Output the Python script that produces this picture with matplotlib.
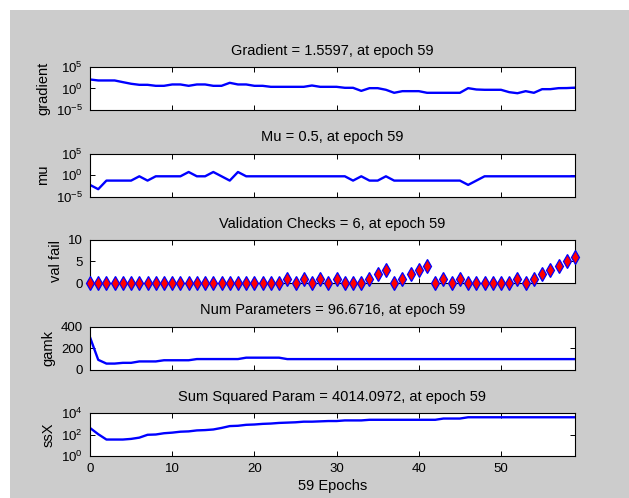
import math
import matplotlib
matplotlib.use("Agg")
import matplotlib.pyplot as plt
from matplotlib.patches import Rectangle
from matplotlib.ticker import FixedLocator, NullLocator, FuncFormatter

plt.rcParams["font.family"] = ["Liberation Sans", "DejaVu Sans"]
plt.rcParams["mathtext.default"] = "regular"
plt.rcParams["axes.unicode_minus"] = False

epochs = list(range(60))

gradient = [126, 74, 74, 74, 30, 12.6, 7.2, 7.2, 4.2, 4.2,
            8.7, 8.7, 4.2, 8.7, 8.7, 4.2, 4.2, 21, 8.7, 8.7,
            4.2, 4.2, 2.45, 2.45, 2.45, 2.45, 2.45, 5.0, 2.45, 2.45,
            2.45, 1.45, 1.45, 0.28, 1.2, 1.2, 0.5, 0.1, 0.24, 0.24,
            0.24, 0.1, 0.1, 0.1, 0.1, 0.1, 1.2, 0.59, 0.5, 0.5,
            0.5, 0.14, 0.08, 0.24, 0.1, 0.7, 0.7, 1.2, 1.26, 1.5597]

mu = [0.005, 0.0005, 0.05, 0.05, 0.05, 0.05, 0.5, 0.05, 0.5, 0.5,
      0.5, 0.5, 5, 0.5, 0.5, 5, 0.5, 0.05, 5, 0.5,
      0.5, 0.5, 0.5, 0.5, 0.5, 0.5, 0.5, 0.5, 0.5, 0.5,
      0.5, 0.5, 0.05, 0.5, 0.05, 0.05, 0.5, 0.05, 0.05, 0.05,
      0.05, 0.05, 0.05, 0.05, 0.05, 0.05, 0.005, 0.05, 0.5, 0.5,
      0.5, 0.5, 0.5, 0.5, 0.5, 0.5, 0.5, 0.5, 0.5, 0.5]

val_fail = [0, 0, 0, 0, 0, 0, 0, 0, 0, 0,
            0, 0, 0, 0, 0, 0, 0, 0, 0, 0,
            0, 0, 0, 0, 1, 0, 1, 0, 1, 0,
            1, 0, 0, 0, 1, 2, 3, 0, 1, 2,
            3, 4, 0, 1, 0, 1, 0, 0, 0, 0,
            0, 0, 1, 0, 1, 2, 3, 4, 5, 6]

gamk = [300, 90, 55, 55, 62, 62, 75, 75, 75, 86,
        86, 86, 86, 97, 97, 97, 97, 97, 97, 110,
        110, 110, 110, 110, 96.67, 96.67, 96.67, 96.67, 96.67, 96.67,
        96.67, 96.67, 96.67, 96.67, 96.67, 96.67, 96.67, 96.67, 96.67, 96.67,
        96.67, 96.67, 96.67, 96.67, 96.67, 96.67, 96.67, 96.67, 96.67, 96.67,
        96.67, 96.67, 96.67, 96.67, 96.67, 96.67, 96.67, 96.67, 96.67, 96.6716]

ssx = [407, 107, 34, 34, 34, 39, 51, 94, 100, 131,
       149, 182, 195, 240, 257, 293, 407, 606, 648, 796,
       852, 974, 1043, 1193, 1276, 1365, 1560, 1560, 1670, 1786,
       1786, 2040, 2040, 2040, 2335, 2335, 2335, 2335, 2335, 2335,
       2335, 2335, 2335, 3050, 3050, 3050, 4014, 4014, 4014, 4014,
       4014, 4014, 4014, 4014, 4014, 4014, 4014, 4014, 4014, 4014.0972]

titles = ["Gradient = 1.5597, at epoch 59",
          "Mu = 0.5, at epoch 59",
          "Validation Checks = 6, at epoch 59",
          "Num Parameters = 96.6716, at epoch 59",
          "Sum Squared Param = 4014.0972, at epoch 59"]
ylabels = ["gradient", "mu", "val fail", "gamk", "ssX"]
series = [gradient, mu, val_fail, gamk, ssx]
log_axes = [True, True, False, False, True]
ylims = [(1e-5, 1e5), (1e-5, 1e5), (0, 10), (0, 400), (1, 1e4)]
yticks = [[1e-5, 1, 1e5], [1e-5, 1, 1e5], [0, 5, 10], [0, 200, 400], [1, 1e2, 1e4]]
xticks = [0, 10, 20, 30, 40, 50]

W, H = 629, 498
fig = plt.figure(figsize=(W / 100, H / 100), dpi=100, facecolor="white")
fig.add_artist(Rectangle((10 / W, 0), 1 - 10 / W, (H - 10) / H,
                         transform=fig.transFigure, facecolor="#cccccc",
                         edgecolor="none", zorder=-10))

pow10 = FuncFormatter(lambda v, p: r"$\mathdefault{10^{%d}}$" % round(math.log10(v)))

for i in range(5):
    top = 67 + 86.5 * i
    ax = fig.add_axes([90 / W, 1 - (top + 43) / H, 485 / W, 43 / H])
    ax.set_facecolor("white")
    if i == 2:
        # val fail: diamonds only, not clipped at the axes edge
        ax.plot(epochs, series[i], linestyle="none", marker="d", markersize=7,
                markerfacecolor="#ff0000", markeredgecolor="#0000ff",
                markeredgewidth=0.9, clip_on=False, zorder=3)
    else:
        ax.plot(epochs, series[i], color="#0000ff", linewidth=1.7)
    if log_axes[i]:
        ax.set_yscale("log")
        ax.yaxis.set_major_formatter(pow10)
    ax.set_ylim(*ylims[i])
    ax.yaxis.set_major_locator(FixedLocator(yticks[i]))
    ax.yaxis.set_minor_locator(NullLocator())
    ax.set_xlim(0, 59)
    ax.set_xticks(xticks)
    ax.tick_params(direction="in", length=3.6, width=0.7, top=True, right=True,
                   labelsize=9.5, pad=5, colors="black")
    if i < 4:
        ax.tick_params(labelbottom=False)
    for s in ax.spines.values():
        s.set_linewidth(0.8)
    ax.set_title(titles[i], fontsize=10.5, pad=8.8)
    ax.set_ylabel(ylabels[i], fontsize=10.5, labelpad=4)

ax.set_xlabel("59 Epochs", fontsize=10.5, labelpad=3)

fig.savefig("out.png", dpi=100, facecolor=fig.get_facecolor())
